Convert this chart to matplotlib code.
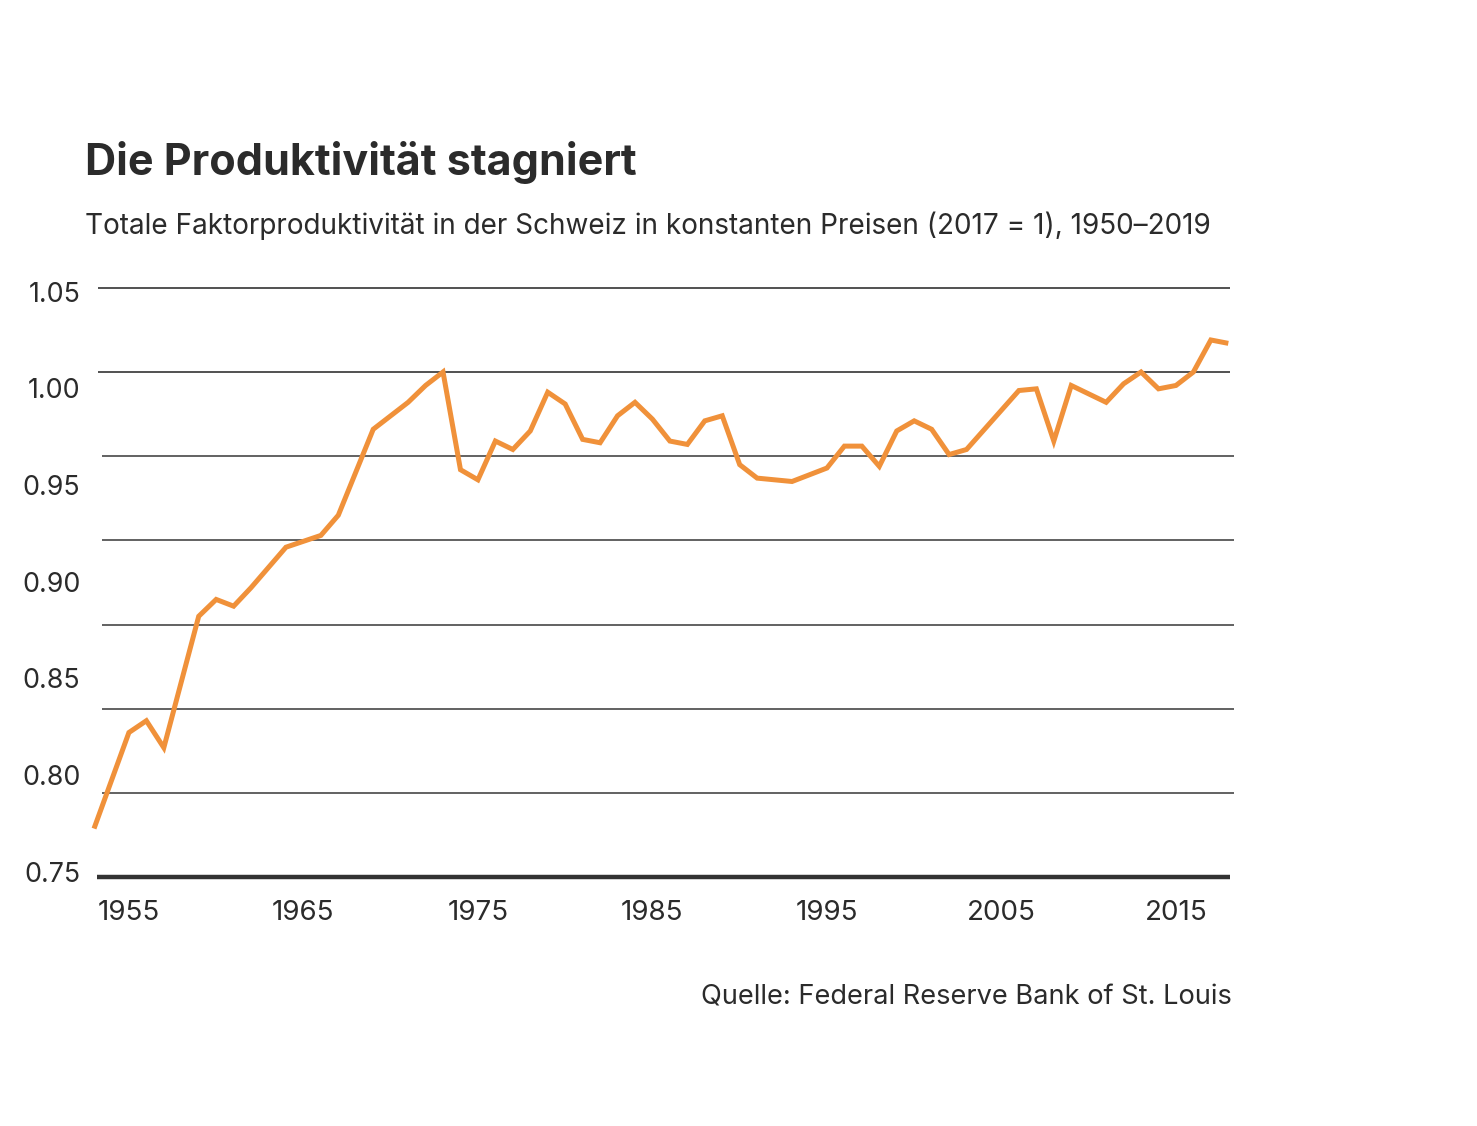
import matplotlib
matplotlib.use("Agg")
import matplotlib.pyplot as plt

# ── Daten ─────────────────────────────────────────────────────
years = [1953, 1955, 1956, 1957, 1959, 1960, 1961, 1962, 1964, 1966,
         1967, 1969, 1971, 1972, 1973, 1974, 1975, 1976, 1977, 1978,
         1979, 1980, 1981, 1982, 1983, 1984, 1985, 1986, 1987, 1988,
         1989, 1990, 1991, 1993, 1994, 1995, 1996, 1997, 1998, 1999,
         2000, 2001, 2002, 2003, 2006, 2007, 2008, 2009, 2011, 2012,
         2013, 2014, 2015, 2016, 2017, 2018]
tfp = [0.729, 0.786, 0.793, 0.777, 0.855, 0.865, 0.861, 0.872, 0.896, 0.903,
       0.915, 0.966, 0.982, 0.992, 1.000, 0.942, 0.936, 0.959, 0.954, 0.965,
       0.988, 0.981, 0.960, 0.958, 0.974, 0.982, 0.972, 0.959, 0.957, 0.971,
       0.974, 0.945, 0.937, 0.935, 0.939, 0.943, 0.956, 0.956, 0.944, 0.965,
       0.971, 0.966, 0.951, 0.954, 0.989, 0.990, 0.959, 0.992, 0.982, 0.993,
       1.000, 0.990, 0.992, 1.000, 1.019, 1.017]

grid_values = [0.75, 0.80, 0.85, 0.90, 0.95, 1.00, 1.05]
baseline_value = 0.70
ytick_values = [0.75, 0.80, 0.85, 0.90, 0.95, 1.00, 1.05]
ytick_labels = ["0.75", "0.80", "0.85", "0.90", "0.95", "1.00", "1.05"]
xtick_values = [1955, 1965, 1975, 1985, 1995, 2005, 2015]

TITLE = "Die Produktivität stagniert"
SUBTITLE = ("Totale Faktorproduktivität in der Schweiz in konstanten Preisen "
            "(2017 = 1), 1950–2019")
SOURCE = "Quelle: Federal Reserve Bank of St. Louis"

ORANGE = "#F0913A"
DARK = "#2b2b2b"
FONT = ["Inter", "DejaVu Sans"]

plt.rcParams["font.family"] = FONT

W, H = 1477, 1126
fig = plt.figure(figsize=(W / 100, H / 100), dpi=100)

# Achsenbereich in Pixeln
left_px, right_px, top_px, bottom_px = 90, 1240, 280, 885
rect = [left_px / W, 1 - bottom_px / H, (right_px - left_px) / W,
        (bottom_px - top_px) / H]

ax = fig.add_axes(rect)
ax.set_xlim(1952.77, 2018.67)
ax.set_ylim(0.6955, 1.0546)

# Gitterlinien
for v in grid_values:
    if v >= 1.00:
        ax.hlines(v, 1953.2, 2018.1, color="#333333", lw=1.2, zorder=1)
    else:
        ax.hlines(v, 1953.45, 2018.3, color="#555555", lw=1.3, zorder=1)
ax.hlines(baseline_value, 1953.15, 2018.1, color="#333333", lw=3.2, zorder=2)

ax.plot(years, tfp, color=ORANGE, lw=3.6, solid_joinstyle="miter",
        solid_capstyle="butt", zorder=3)

for s in ax.spines.values():
    s.set_visible(False)
ax.set_yticks([])
ax.set_xticks(xtick_values)
ax.set_xticklabels([str(x) for x in xtick_values])
ax.tick_params(axis="x", length=0, pad=11, labelsize=20, labelcolor=DARK)

# separate Skala für die Y-Beschriftung (wie in der Vorlage versetzt)
ax_lab = fig.add_axes(rect, frameon=False)
ax_lab.set_ylim(0.7431, 1.0561)
ax_lab.set_xticks([])
ax_lab.set_yticks(ytick_values)
ax_lab.set_yticklabels(ytick_labels)
ax_lab.tick_params(axis="y", length=0, pad=7, labelsize=19.3, labelcolor=DARK)
ax_lab.patch.set_visible(False)

fig.text(85 / W, 1 - 162 / H, TITLE, fontsize=31, fontweight="bold",
         color=DARK, ha="left", va="center")
fig.text(85 / W, 1 - 226 / H, SUBTITLE, fontsize=20.1, color=DARK,
         ha="left", va="center")
fig.text(1232 / W, 1 - 998 / H, SOURCE, fontsize=19.6, color=DARK,
         ha="right", va="center")

fig.savefig("out.png", dpi=100, facecolor="white")
